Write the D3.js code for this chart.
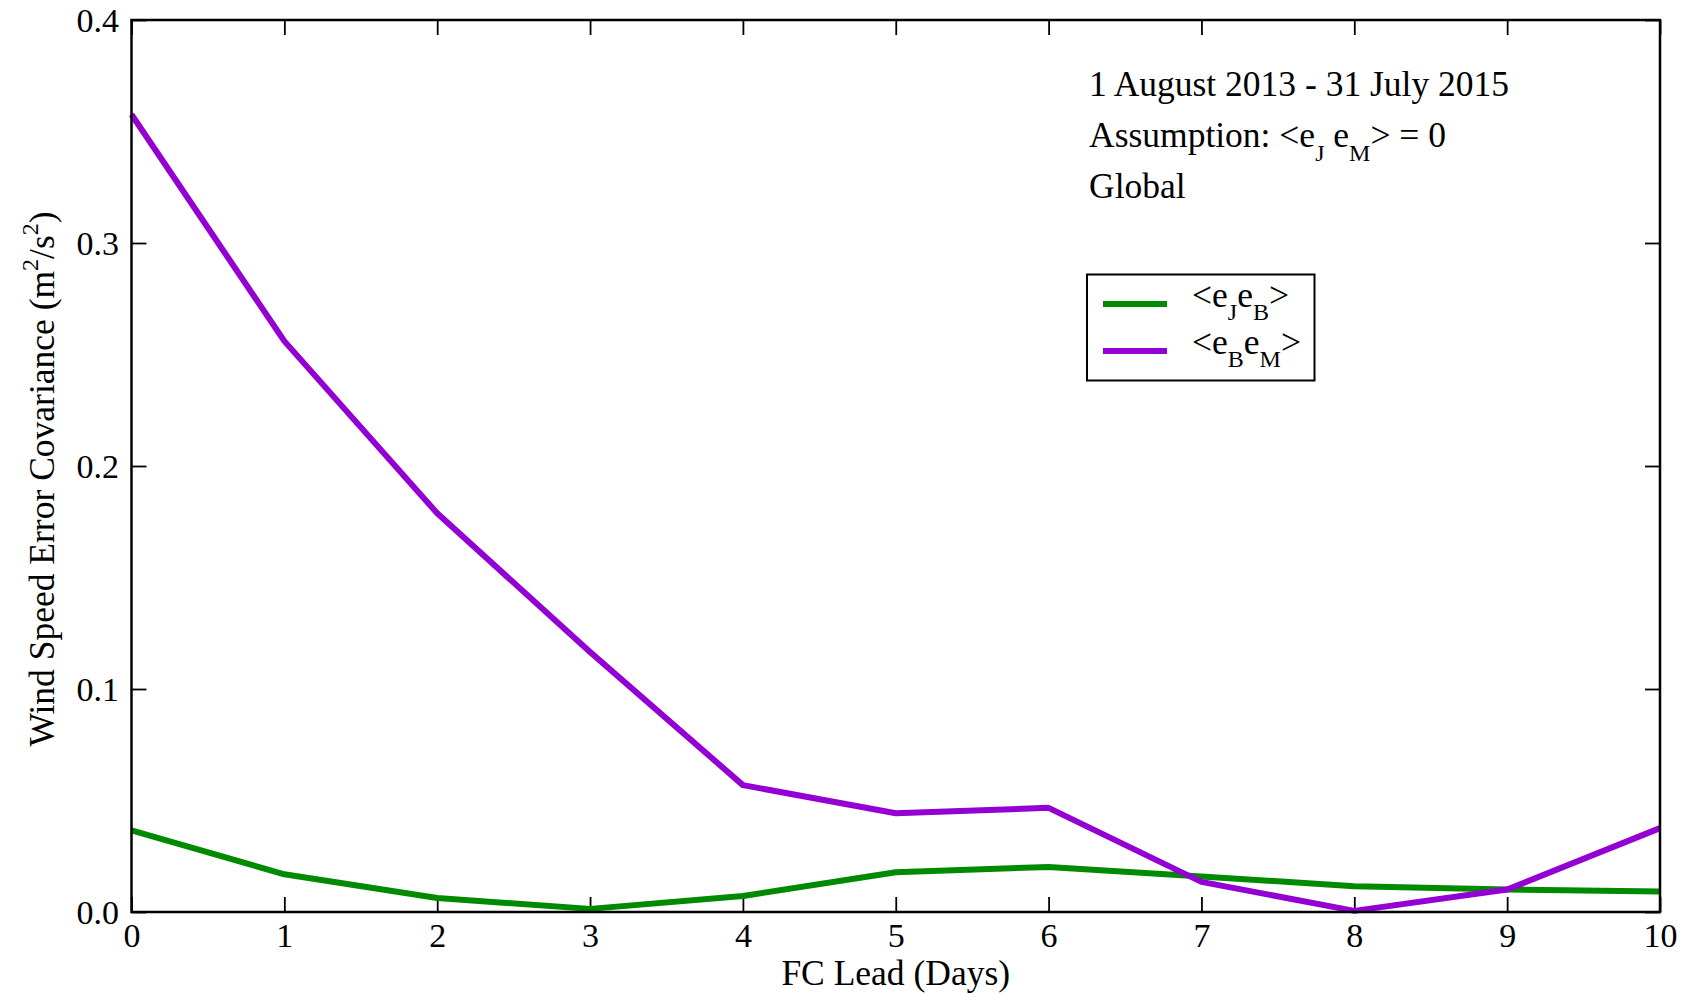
<!DOCTYPE html>
<html>
<head>
<meta charset="utf-8">
<script src="https://cdn.jsdelivr.net/npm/d3@7"></script>
<style>
  html, body { margin: 0; padding: 0; background: #fff; }
  svg text { font-family: "Liberation Serif", "DejaVu Serif", serif; fill: #000; }
</style>
</head>
<body>
<svg id="chart" width="1687" height="994"></svg>
<script>
const leadDays = [0, 1, 2, 3, 4, 5, 6, 7, 8, 9, 10];
const eJeB = [0.0366, 0.0169, 0.0063, 0.0014, 0.0072, 0.0178, 0.0202, 0.0159, 0.0116, 0.0101, 0.0092];
const eBeM = [0.3576, 0.2560, 0.1788, 0.1166, 0.0569, 0.0443, 0.0467, 0.0135, 0.0005, 0.0101, 0.0376];
const xTicks = [0, 1, 2, 3, 4, 5, 6, 7, 8, 9, 10];
const yTicks = [0.0, 0.1, 0.2, 0.3, 0.4];
const seriesNames = [["e", "J", "e", "B"], ["e", "B", "e", "M"]];
const seriesColors = ["#008a00", "#9400d3"];
const annotations = ["1 August 2013 - 31 July 2015", "Assumption", "Global"];

const svg = d3.select("#chart");
const L = 131.5, R = 1660, T = 20, B = 912;
const fsTick = 34, fs = 35.5, fsSub = 24;

const x = d3.scaleLinear().domain([0, 10]).range([L, R]);
const y = d3.scaleLinear().domain([0, 0.4]).range([B, T]);

// axes
const gx = svg.append("g").attr("transform", `translate(0,${B})`)
  .call(d3.axisBottom(x).tickValues(xTicks).tickFormat(d3.format("d")).tickSize(-15).tickPadding(11));
const gxTop = svg.append("g").attr("transform", `translate(0,${T})`)
  .call(d3.axisTop(x).tickValues(xTicks).tickFormat("").tickSize(-15));
const gy = svg.append("g").attr("transform", `translate(${L},0)`)
  .call(d3.axisLeft(y).tickValues(yTicks).tickFormat(d3.format(".1f")).tickSize(-15).tickPadding(12.5));
const gyR = svg.append("g").attr("transform", `translate(${R},0)`)
  .call(d3.axisRight(y).tickValues(yTicks).tickFormat("").tickSize(-15));

[gx, gxTop, gy, gyR].forEach(g => {
  g.select(".domain").remove();
  g.selectAll(".tick line").attr("stroke", "#000").attr("stroke-width", 1.8);
  g.selectAll(".tick text").attr("font-size", fsTick).attr("font-family", "Liberation Serif").attr("fill", "#000");
});
gy.selectAll(".tick text").attr("dy", "0.34em");

// lines
const line = d3.line().x((d, i) => x(leadDays[i])).y(d => y(d));
[eJeB, eBeM].forEach((vals, k) => {
  svg.append("path").datum(vals)
    .attr("d", line)
    .attr("fill", "none")
    .attr("stroke", seriesColors[k])
    .attr("stroke-width", 6)
    .attr("stroke-linejoin", "round");
});

// frame
svg.append("rect").attr("x", L).attr("y", T).attr("width", R - L).attr("height", B - T)
  .attr("fill", "none").attr("stroke", "#000").attr("stroke-width", 2.5);

// axis titles
svg.append("text").attr("x", (L + R) / 2).attr("y", 985).attr("text-anchor", "middle")
  .attr("font-size", fs).text("FC Lead (Days)");

const yl = svg.append("text").attr("transform", "translate(54,479) rotate(-90)")
  .attr("text-anchor", "middle").attr("font-size", fs);
yl.append("tspan").text("Wind Speed Error Covariance (m");
yl.append("tspan").attr("font-size", fsSub).attr("dy", -16).text("2");
yl.append("tspan").attr("dy", 16).text("/s");
yl.append("tspan").attr("font-size", fsSub).attr("dy", -16).text("2");
yl.append("tspan").attr("dy", 16).text(")");

// annotations
svg.append("text").attr("x", 1089).attr("y", 96).attr("font-size", fs).text(annotations[0]);
const a2 = svg.append("text").attr("x", 1089).attr("y", 147).attr("font-size", fs);
a2.append("tspan").text("Assumption: <e");
a2.append("tspan").attr("font-size", fsSub).attr("dy", 14).text("J");
a2.append("tspan").attr("dy", -14).text(" e");
a2.append("tspan").attr("font-size", fsSub).attr("dy", 14).text("M");
a2.append("tspan").attr("dy", -14).text("> = 0");
svg.append("text").attr("x", 1089).attr("y", 198).attr("font-size", fs).text(annotations[2]);

// legend
svg.append("rect").attr("x", 1087).attr("y", 274.5).attr("width", 227.5).attr("height", 106)
  .attr("fill", "#fff").attr("stroke", "#000").attr("stroke-width", 2);
seriesNames.forEach((nm, k) => {
  const ly = 304 + k * 47;
  svg.append("line").attr("x1", 1103).attr("x2", 1167).attr("y1", ly).attr("y2", ly)
    .attr("stroke", seriesColors[k]).attr("stroke-width", 6);
  const t = svg.append("text").attr("x", 1192).attr("y", ly + 3).attr("font-size", fs);
  t.append("tspan").text("<" + nm[0]);
  t.append("tspan").attr("font-size", fsSub).attr("dy", 13).text(nm[1]);
  t.append("tspan").attr("dy", -13).text(nm[2]);
  t.append("tspan").attr("font-size", fsSub).attr("dy", 13).text(nm[3]);
  t.append("tspan").attr("dy", -13).text(">");
});
</script>
</body>
</html>
